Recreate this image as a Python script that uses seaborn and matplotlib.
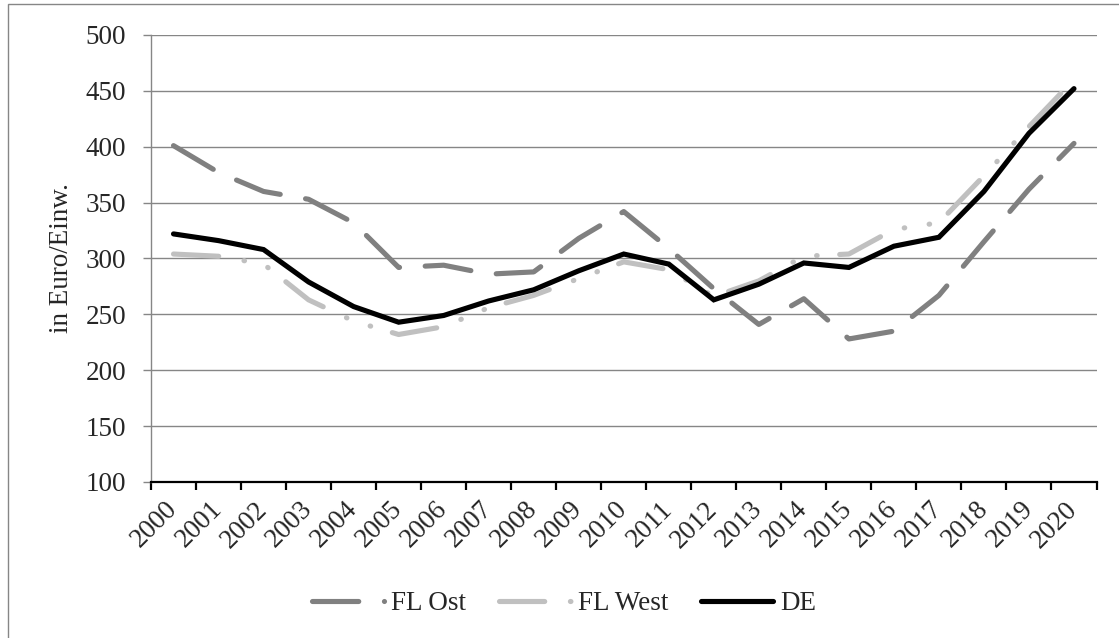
import pandas as pd
import numpy as np
import matplotlib
matplotlib.use("Agg")
import matplotlib.pyplot as plt
import matplotlib.patches as patches
from matplotlib.ticker import FixedLocator
import seaborn as sns

years = [str(y) for y in range(2000, 2021)]

fl_ost = [401, 377, 360, 353, 332, 292, 294, 286, 288, 318, 342,
          309, 273, 241, 264, 228, 235, 267, 315, 362, 403]
fl_west = [304, 302, 295, 263, 244, 232, 239, 256, 267, 282, 297,
           290, 266, 280, 302, 304, 326, 332, 374, 418, 460]
de = [322, 316, 308, 279, 257, 243, 249, 262, 272, 289, 304,
      295, 263, 277, 296, 292, 311, 319, 360, 412, 452]

series = ['FL Ost', 'FL West', 'DE']
colors = {'FL Ost': '#808080', 'FL West': '#c0c0c0', 'DE': '#000000'}
# dash patterns in units of line width
dashes = {'FL Ost': (9.0, 5.0),
          'FL West': (8.8, 5.0, 0.1, 4.8, 0.1, 4.4),
          'DE': ''}

df = pd.DataFrame({
    'Jahr': years * 3,
    'Wert': fl_ost + fl_west + de,
    'Region': ['FL Ost'] * 21 + ['FL West'] * 21 + ['DE'] * 21,
})

sns.set_style("white")
plt.rcParams['font.family'] = ['Liberation Serif', 'DejaVu Serif']

fig = plt.figure(figsize=(11.19, 6.38), dpi=100)
ax = fig.add_axes([151 / 1119, 1 - 482 / 638, (1096.5 - 151) / 1119, (482 - 35) / 638])

sns.lineplot(data=df, x='Jahr', y='Wert', hue='Region', style='Region',
             hue_order=series, style_order=series, palette=colors,
             dashes=dashes, linewidth=3.7, legend=False, ax=ax,
             dash_capstyle='round', solid_capstyle='round',
             solid_joinstyle='miter')

ax.set_xlim(-0.5, len(years) - 0.5)
ax.set_ylim(100, 500)
ax.set_yticks(range(100, 501, 50))
ax.yaxis.grid(True, color='#868686', linewidth=1.0)
ax.set_axisbelow(True)

ax.set_xlabel('')
ax.set_ylabel('in Euro/Einw.', fontsize=19.5, labelpad=8)

for s in ['top', 'right']:
    ax.spines[s].set_visible(False)
ax.spines['left'].set_color('#868686')
ax.spines['left'].set_linewidth(1.0)
ax.spines['bottom'].set_color('black')
ax.spines['bottom'].set_linewidth(1.6)

ax.tick_params(axis='y', which='major', direction='out', length=6,
               width=1.0, color='#868686', labelsize=19.5, pad=12, left=True)
ax.set_xticks(range(len(years)))
ax.set_xticklabels(years, rotation=45, ha='right', va='center',
                   rotation_mode='anchor', fontsize=19.5)
ax.tick_params(axis='x', which='major', length=0, pad=17)
ax.xaxis.set_minor_locator(FixedLocator(np.arange(-0.5, len(years), 1.0)))
ax.tick_params(axis='x', which='minor', direction='out', length=6,
               width=1.6, color='black', bottom=True)

fig.legend(handles=ax.lines[:3], labels=series, loc='center',
           bbox_to_anchor=(564 / 1119, 1 - 604 / 638), ncol=3, frameon=False,
           fontsize=19.5, handlelength=2.68, handletextpad=0.25,
           columnspacing=1.2)

border = patches.Rectangle((8 / 1119, -0.1), 2, 1.1 - 4 / 638,
                           transform=fig.transFigure, fill=False,
                           edgecolor='#868686', linewidth=1.0)
fig.patches.append(border)

fig.savefig('out.png', dpi=100)
